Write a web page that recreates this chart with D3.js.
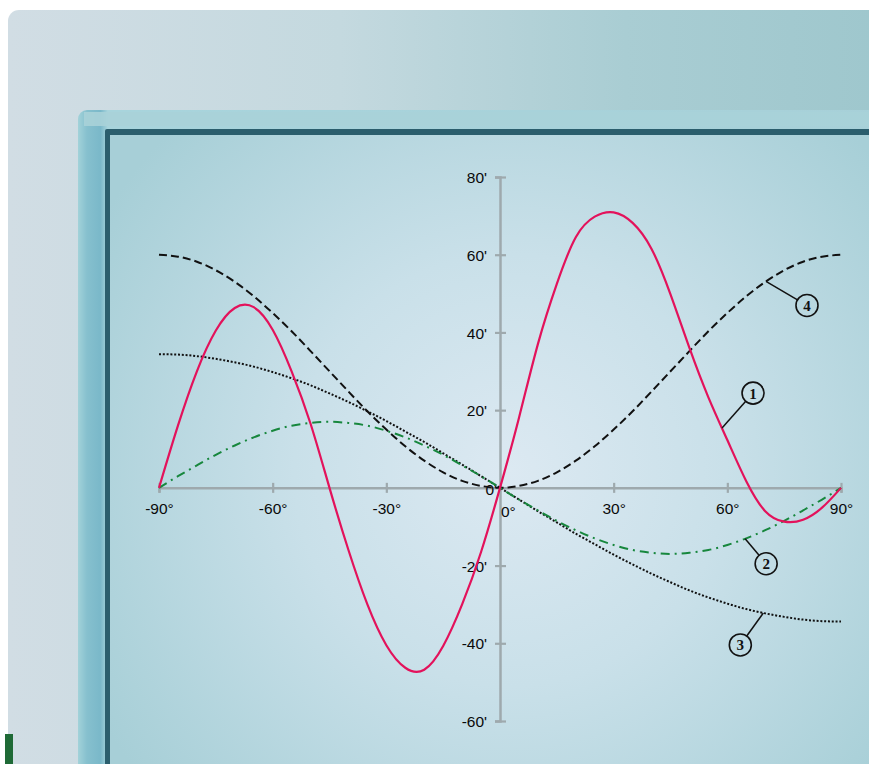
<!DOCTYPE html>
<html lang="en">
<head>
<meta charset="UTF-8" />
<title>Curves</title>
<script src="https://d3js.org/d3.v7.min.js"></script>
<style>
  html, body { margin: 0; padding: 0; background: #fff; }
  svg { display: block; }
  .tick text { font-family: "Liberation Sans", Arial, sans-serif; font-size: 15.5px; fill: #0a0a0a; }
  .lbl { font-family: "Liberation Sans", Arial, sans-serif; font-size: 15.5px; fill: #0a0a0a; }
  .num { font-family: "Liberation Serif", "DejaVu Serif", serif; font-size: 15px; font-weight: bold; fill: #111; }
</style>
</head>
<body>
<svg id="chart" width="869" height="764"></svg>
<script>
// angle in degrees, every 5 degrees from -90 to 90
var angles = [-90,-85,-80,-75,-70,-65,-60,-55,-50,-45,-40,-35,-30,-25,-20,-15,-10,-5,0,
               5,10,15,20,25,30,35,40,45,50,55,60,65,70,75,80,85,90];

// values in minutes of arc
var curve1 = [0,16,30,40.5,46.3,46.5,40.7,30,16.5,0,-16,-30,-40.5,-46.3,-46.8,-40.7,-30,-16.5,0,
              18,37,52.5,64.5,69.8,70.9,68.2,61.5,49.8,36,23.3,12.3,1.7,-6,-8.7,-8.2,-5.1,0];
var curve2 = [0,3,5.8,8.5,10.9,13,14.7,16,16.7,17,16.7,16,14.7,13,10.9,8.5,5.8,3,0,
              -3,-5.8,-8.5,-10.9,-13,-14.7,-16,-16.7,-17,-16.7,-16,-14.7,-13,-10.9,-8.5,-5.8,-3,0];
var curve3 = [34.4,34.3,33.9,33.2,32.3,31.2,29.8,28.2,26.4,24.3,22.1,19.7,17.2,14.5,11.8,8.9,6,3,0,
              -3,-6,-8.9,-11.8,-14.5,-17.2,-19.7,-22.1,-24.3,-26.4,-28.2,-29.8,-31.2,-32.3,-33.2,-33.9,-34.3,-34.4];
var curve4 = [60,59.5,58.2,56,53,49.3,45,40.3,35.2,30,24.8,19.7,15,10.7,7,4,1.8,0.5,0,
              0.5,1.8,4,7,10.7,15,19.7,24.8,30,35.2,40.3,45,49.3,53,56,58.2,59.5,60];

var xTicks = [-90,-60,-30,30,60,90];
var yTicks = [-60,-40,-20,20,40,60,80];

// which curve each numbered label points at, and where (degrees)
var labelNames = ["1","2","3","4"];
var labelAt = [58.6, 64.7, 69.5, 70.2];

var svg = d3.select("#chart");
var defs = svg.append("defs");

// ---- monitor-like backdrop ----
var g1 = defs.append("linearGradient").attr("id","panel").attr("x1","0").attr("x2","1").attr("y1","0").attr("y2","0");
g1.append("stop").attr("offset","0").attr("stop-color","#d1dde4");
g1.append("stop").attr("offset","0.35").attr("stop-color","#c4d9df");
g1.append("stop").attr("offset","0.65").attr("stop-color","#a9cdd3");
g1.append("stop").attr("offset","1").attr("stop-color","#9bc5cb");

var g2 = defs.append("linearGradient").attr("id","bevel").attr("x1","0").attr("x2","1").attr("y1","0").attr("y2","0");
g2.append("stop").attr("offset","0").attr("stop-color","#a2d2d9");
g2.append("stop").attr("offset","0.01").attr("stop-color","#86c0ce");
g2.append("stop").attr("offset","0.025").attr("stop-color","#7ab8c9");
g2.append("stop").attr("offset","0.033").attr("stop-color","#a8d4dc");
g2.append("stop").attr("offset","1").attr("stop-color","#a7d0d8");

var g3 = defs.append("radialGradient").attr("id","screen")
  .attr("gradientUnits","userSpaceOnUse").attr("cx",510).attr("cy",470).attr("r",480);
g3.append("stop").attr("offset","0").attr("stop-color","#dce9f2");
g3.append("stop").attr("offset","0.45").attr("stop-color","#c9e0e9");
g3.append("stop").attr("offset","1").attr("stop-color","#a7cfd7");

svg.append("rect").attr("x",8).attr("y",10).attr("width",950).attr("height",850).attr("rx",11).attr("fill","url(#panel)");
svg.append("rect").attr("x",78).attr("y",110).attr("width",900).attr("height",800).attr("rx",9).attr("fill","url(#bevel)");
svg.append("rect").attr("x",84).attr("y",112).attr("width",900).attr("height",14).attr("fill","#a9d1d8").attr("opacity",0.9);
svg.append("rect").attr("x",105).attr("y",129).attr("width",900).attr("height",800).attr("rx",2).attr("fill","#2b5e6d");
svg.append("rect").attr("x",110).attr("y",135).attr("width",900).attr("height",800).attr("fill","url(#screen)");
svg.append("rect").attr("x",5).attr("y",734).attr("width",8).attr("height",30).attr("fill","#1f6a36");

// ---- scales & axes ----
var x = d3.scaleLinear().domain([-90, 90]).range([159, 841]);
var y = d3.scaleLinear().domain([-60, 80]).range([721, 177]);
var axisColor = "#9ea9ad";

var xAxis = svg.append("g").attr("transform","translate(0," + y(0) + ")")
  .call(d3.axisBottom(x).tickValues(xTicks).tickSizeOuter(0).tickSize(5).tickPadding(15)
        .tickFormat(function(d){ return d + "°"; }));
var yAxis = svg.append("g").attr("transform","translate(" + x(0) + ",0)")
  .call(d3.axisLeft(y).tickValues(yTicks).tickSizeOuter(0).tickSize(5).tickPadding(8)
        .tickFormat(function(d){ return d + "'"; }));

[xAxis, yAxis].forEach(function(a){
  a.select(".domain").attr("stroke", axisColor).attr("stroke-width", 2.5);
  a.selectAll(".tick line").attr("stroke", axisColor).attr("stroke-width", 2.2);
  a.attr("font-family", null).attr("font-size", null);
});
xAxis.selectAll(".tick line").attr("y1",-5).attr("y2",5);
yAxis.selectAll(".tick line").attr("x1",-5).attr("x2",6);
xAxis.selectAll(".tick text").attr("dy","0.42em");
yAxis.selectAll(".tick text").attr("dy","0.36em");

svg.append("text").attr("class","lbl").attr("x", x(0) - 3).attr("y", y(0) + 7)
  .attr("text-anchor","end").text("0'");
svg.append("text").attr("class","lbl").attr("x", x(0) + 1).attr("y", y(0) + 29)
  .text("0°");

// ---- curves ----
var series = [
  {v: curve1, color: "#e3125b", dash: null,        w: 2.2},
  {v: curve2, color: "#17873d", dash: "9,5,2,5",   w: 2},
  {v: curve3, color: "#111",    dash: "2,1.8",     w: 2},
  {v: curve4, color: "#111",    dash: "8,4",       w: 2}
];

var line = d3.line()
  .x(function(d, i){ return x(angles[i]); })
  .y(function(d){ return y(d); })
  .curve(d3.curveNatural);

// draw back to front: 4, 3, 2, 1
series.slice().reverse().forEach(function(s){
  svg.append("path").datum(s.v)
    .attr("d", line)
    .attr("fill","none")
    .attr("stroke", s.color)
    .attr("stroke-width", s.w)
    .attr("stroke-dasharray", s.dash);
});

// ---- numbered call-outs ----
function valueAt(vals, a){
  var i = d3.bisectLeft(angles, a);
  if (i <= 0) return vals[0];
  var t = (a - angles[i-1]) / (angles[i] - angles[i-1]);
  return vals[i-1] + t * (vals[i] - vals[i-1]);
}
var offsets = [[31,-35],[21,25],[-23,32],[41,24]];
var r = 11;

labelNames.forEach(function(name, k){
  var ax = x(labelAt[k]), ay = y(valueAt(series[k].v, labelAt[k]));
  var cx = ax + offsets[k][0], cy = ay + offsets[k][1];
  var len = Math.sqrt(offsets[k][0]*offsets[k][0] + offsets[k][1]*offsets[k][1]);
  var ex = cx - offsets[k][0] / len * r, ey = cy - offsets[k][1] / len * r;
  svg.append("line").attr("x1",ax).attr("y1",ay).attr("x2",ex).attr("y2",ey)
    .attr("stroke","#111").attr("stroke-width",1.5);
  svg.append("circle").attr("cx",cx).attr("cy",cy).attr("r",r)
    .attr("fill","none").attr("stroke","#111").attr("stroke-width",1.6);
  svg.append("text").attr("class","num").attr("x",cx).attr("y",cy + 5.5)
    .attr("text-anchor","middle").text(name);
});
</script>
</body>
</html>
